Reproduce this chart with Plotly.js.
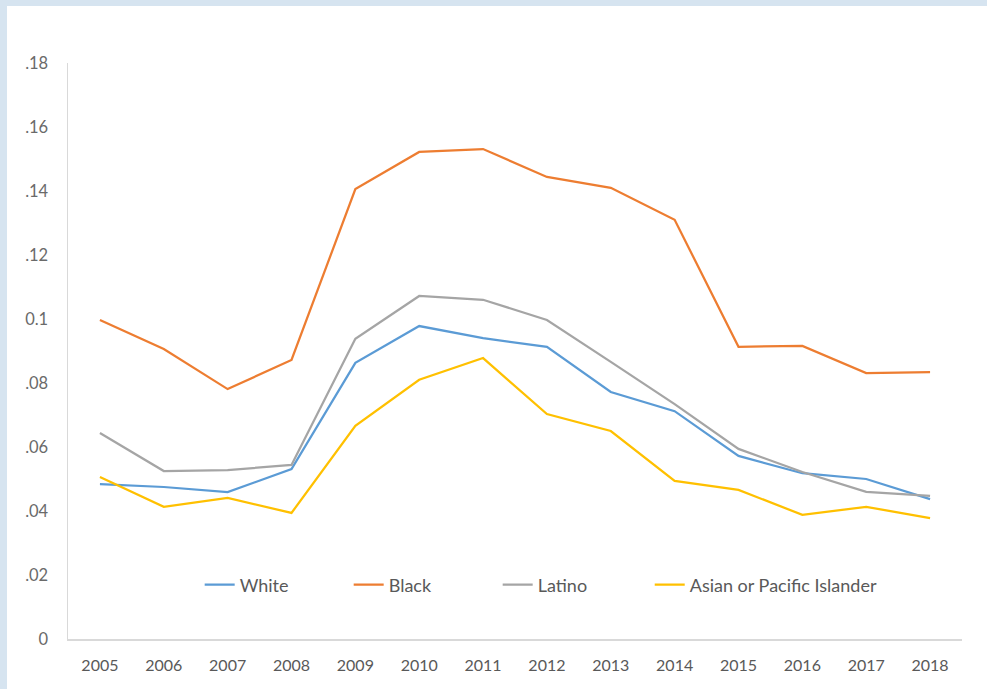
<!DOCTYPE html>
<html>
<head>
<meta charset="utf-8">
<script src="https://cdn.plot.ly/plotly-3.0.1.min.js"></script>
<style>
  html, body { margin: 0; padding: 0; background: #d6e4f0; width: 987px; height: 689px; overflow: hidden; }
  #chart { position: absolute; left: 7px; top: 6px; width: 980px; height: 683px; background: #ffffff; }
</style>
</head>
<body>
<div id="chart"></div>
<script>
const years = ["2005","2006","2007","2008","2009","2010","2011","2012","2013","2014","2015","2016","2017","2018"];
const white = [0.0484,0.0475,0.0459,0.0531,0.0863,0.0978,0.0940,0.0913,0.0772,0.0712,0.0572,0.0518,0.0500,0.0437];
const black = [0.0997,0.0906,0.0781,0.0872,0.1406,0.1522,0.1531,0.1444,0.1410,0.1310,0.0913,0.0916,0.0831,0.0834];
const latino = [0.0644,0.0525,0.0528,0.0544,0.0938,0.1072,0.1060,0.0997,0.0866,0.0734,0.0594,0.0522,0.0460,0.0447];
const asian = [0.0506,0.0413,0.0441,0.0394,0.0666,0.0810,0.0878,0.0703,0.0650,0.0494,0.0466,0.0388,0.0413,0.0378];
const seriesNames = ["White","Black","Latino","Asian or Pacific Islander"];
const seriesColors = ["#5B9BD5","#ED7D31","#A5A5A5","#FFC000"];
const yTickVals = [0,0.02,0.04,0.06,0.08,0.10,0.12,0.14,0.16,0.18];
const yTickText = ["0",".02",".04",".06",".08","0.1",".12",".14",".16",".18"];

const xIdx = years.map((_, i) => i);
const allSeries = [white, black, latino, asian];
const legendIds = ["legend","legend","legend","legend2"];
const traces = allSeries.map((vals, k) => ({
  x: xIdx, y: vals, type: "scatter", mode: "lines", name: seriesNames[k],
  legend: legendIds[k],
  line: { color: seriesColors[k], width: 2.25 }
}));

const fontFam = "Lato, 'Open Sans', sans-serif";
const legFont = { family: fontFam, size: 18, color: "#595959" };
const layout = {
  width: 980, height: 683,
  paper_bgcolor: "#ffffff", plot_bgcolor: "#ffffff",
  margin: { l: 61, r: 25, t: 57, b: 50 },
  font: { family: fontFam, size: 15, color: "#595959" },
  showlegend: true,
  legend: {
    orientation: "h", x: 0.1473, xanchor: "left", y: 0.094, yanchor: "middle",
    bgcolor: "rgba(0,0,0,0)", font: legFont,
    entrywidth: 104, entrywidthmode: "pixels", itemwidth: 30
  },
  legend2: {
    orientation: "h", x: 0.6507, xanchor: "left", y: 0.094, yanchor: "middle",
    bgcolor: "rgba(0,0,0,0)", font: legFont, itemwidth: 30
  },
  xaxis: {
    range: [-0.5, 13.5], tickvals: xIdx, ticktext: years, showgrid: false, zeroline: false,
    showline: true, linecolor: "#d9d9d9", linewidth: 1.5,
    ticks: "outside", ticklen: 11, tickcolor: "rgba(0,0,0,0)",
    tickfont: { family: fontFam, size: 16, color: "#595959" }, fixedrange: true
  },
  yaxis: {
    range: [0, 0.18], tickvals: yTickVals, ticktext: yTickText, showgrid: false, zeroline: false,
    showline: true, linecolor: "#d9d9d9", linewidth: 1.5,
    ticks: "outside", ticklen: 15, tickcolor: "rgba(0,0,0,0)",
    tickfont: { family: fontFam, size: 16.5, color: "#6a6a6a" }, fixedrange: true
  }
};
Plotly.newPlot("chart", traces, layout, { displayModeBar: false, staticPlot: true });
</script>
</body>
</html>
